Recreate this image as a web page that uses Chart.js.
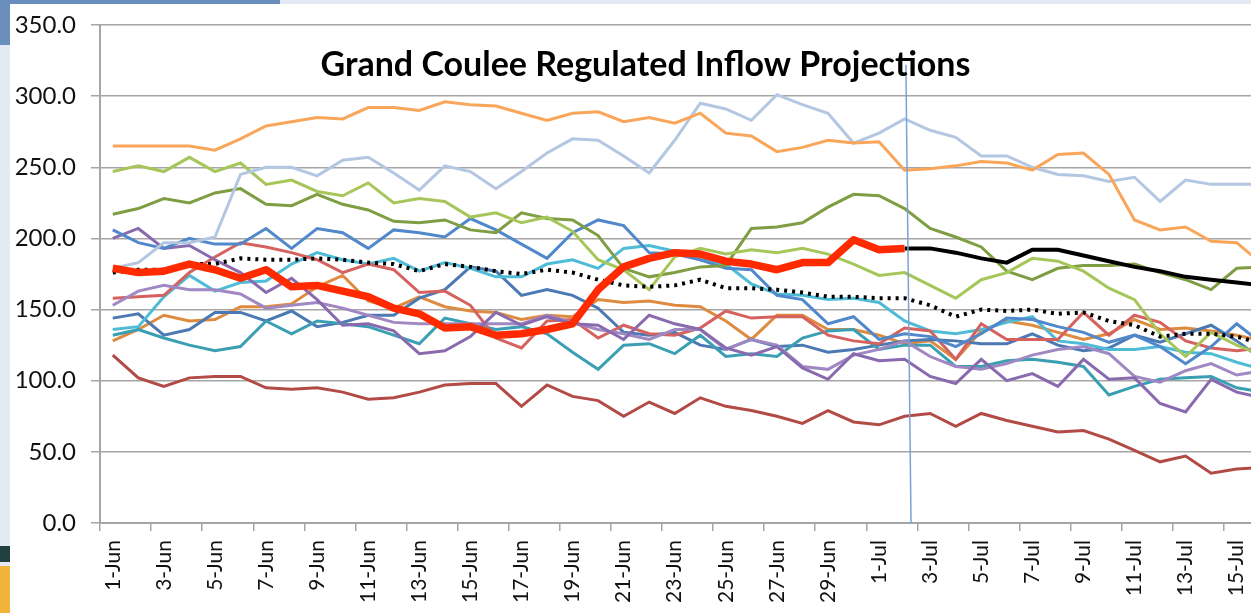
<!DOCTYPE html>
<html>
<head>
<meta charset="utf-8">
<script src="https://cdn.jsdelivr.net/npm/chart.js@4.4.1/dist/chart.umd.min.js"></script>
<style>
  html, body { margin: 0; padding: 0; overflow: hidden; }
  body { width: 1251px; height: 613px; position: relative; background: #e3eaf3; }
  .bar-top { position: absolute; left: 0; top: 0; width: 280px; height: 5px; background: #6a8fbd; }
  .bar-left { position: absolute; left: 0; top: 0; width: 10px; height: 45px; background: #6a8fbd; }
  .foot-dark { position: absolute; left: 0; top: 546px; width: 10px; height: 16px; background: #22403e; }
  .foot-gold { position: absolute; left: 0; top: 566px; width: 10px; height: 47px; background: #f1b43a; }
  #inflowChart { position: absolute; left: 10px; top: 4px; background: #fff; }
</style>
</head>
<body>
<div class="bar-top"></div>
<div class="bar-left"></div>
<div class="foot-dark"></div>
<div class="foot-gold"></div>
<canvas id="inflowChart" width="1265" height="609"></canvas>
<script>
const chartTitle = 'Grand Coulee Regulated Inflow Projections';

const days = ['1-Jun','2-Jun','3-Jun','4-Jun','5-Jun','6-Jun','7-Jun','8-Jun','9-Jun','10-Jun',
  '11-Jun','12-Jun','13-Jun','14-Jun','15-Jun','16-Jun','17-Jun','18-Jun','19-Jun','20-Jun',
  '21-Jun','22-Jun','23-Jun','24-Jun','25-Jun','26-Jun','27-Jun','28-Jun','29-Jun','30-Jun',
  '1-Jul','2-Jul','3-Jul','4-Jul','5-Jul','6-Jul','7-Jul','8-Jul','9-Jul','10-Jul',
  '11-Jul','12-Jul','13-Jul','14-Jul','15-Jul','16-Jul'];

const yTicks = [0, 50, 100, 150, 200, 250, 300, 350];
const cutoverIndex = 31; // 2-Jul, where observed flow hands over to the forecast

// scenario traces (kcfs)
const orangeHigh = [265,265,265,265,262,270,279,282,285, 284,292,292,290,296,294,293,288,283,288,
  289,282,285,281,288,274,272,261,264, 269,267,268,248,249,251,254,253,248, 259,260,245,213,206,208,198,197,182];
const paleBlue = [179,183,197,197,201,245,250,250,244, 255,257,246,234,251,247,235,247,260,270,
  269,258,246,269,295,291,283,301,294, 288,267,274,284,276,271,258,258,250, 245,244,240,243,226,241,238,238,238];
const limeGreen = [247,251,247,257,247,253,238,241,233, 230,239,225,228,226,215,218,211,215,205,
  185,178,164,187,193,189,192,190,193, 189,182,174,176,167,158,171,176,186, 184,177,165,157,133,117,134,125,118];
const oliveGreen = [217,221,228,225,232,235,224,223,231, 224,220,212,211,213,206,204,218,214,213,
  202,179,173,176,180,181,207,208,211, 222,231,230,221,207,201,194,177,171, 179,181,181,182,176,171,164,179,180];
const blueTop = [206,197,193,200,196,196,207,193,207, 204,193,206,204,201,214,206,196,186,204,
  213,209,190,189,185,179,178,160,157, 140,145,129,133,131,124,133,144,143, 138,134,127,132,124,112,124,140,126];
const purpleA = [200,207,193,195,185,176,162,172,157, 139,140,135,119,121,131,148,139,145,140,
  139,129,146,140,136,123,118,124,109, 101,119,114,115,103,98,115,100,105, 96,115,101,102,84,78,101,92,88];
const purpleB = [153,163,167,164,164,161,151,153,155, 151,146,141,140,140,140,140,140,146,141,
  136,133,129,136,136,122,129,125,110, 108,118,122,128,117,110,108,112,118, 122,124,119,103,99,107,112,104,107];
const salmon = [158,159,160,176,187,197,194,190,185, 176,182,178,162,163,153,130,123,142,143,
  130,139,133,132,137,149,144,145,145, 132,128,126,137,135,115,140,129,129, 129,148,132,146,141,128,123,121,123];
const aqua = [136,138,159,174,163,169,170,182,190, 185,182,186,177,183,179,173,173,182,185,
  179,193,195,191,185,182,168,161,160, 157,158,155,142,135,133,136,141,145, 128,126,122,122,124,120,119,113,108];
const teal = [132,136,130,125,121,124,142,133,142, 140,138,132,126,144,140,136,138,133,120,
  108,125,126,119,132,117,119,117,130, 135,136,122,125,125,110,110,114,115, 113,110,90,96,101,102,103,95,92];
const steelBlue = [144,147,132,136,148,148,142,149,138, 141,146,146,158,164,180,177,160,164,160,
  151,134,132,134,125,122,129,124,125, 120,122,125,128,129,128,126,126,133, 125,121,123,132,127,133,139,128,115];
const amber = [128,136,146,142,143,152,152,154,166, 174,156,151,159,152,149,148,143,146,145,
  157,155,156,153,152,142,129,146,146, 136,136,132,126,128,115,135,142,139, 134,129,133,143,136,137,135,132,128];
const brick = [118,102,96,102,103,103,95,94,95, 92,87,88,92,97,98,98,82,97,89,
  86,75,85,77,88,82,79,75,70, 79,71,69,75,77,68,77,72,68, 64,65,59,51,43,47,35,38,39];

// observed, forecast and scenario average
const observed = [179,176,177,182,178,172,178,166,167, 163,159,151,147,137,138,132,133,136,140,
  164,180,186,190,189,184,182,178,183, 183,199,192,193,
  null,null,null,null,null,null,null,null,null,null,null,null,null,null];
const forecast = [null,null,null,null,null,null,null,null,null,null,null,null,null,null,null,null,
  null,null,null,null,null,null,null,null,null,null,null,null,null,null,null,
  193,193,190,186,183,192, 192,188,184,180,177,173,171,169,167];
const average = [176,178,178,182,182,186,185,185,186, 185,183,182,177,182,180,177,175,178,176,
  171,167,166,167,171,165,165,164,162, 159,159,158,158,153,145,150,149,150, 147,148,142,139,131,133,133,131,126];

function trace(label, data, color, width, order, extra) {
    return Object.assign({
        label: label,
        data: data,
        borderColor: color,
        backgroundColor: color,
        borderWidth: width,
        pointRadius: 0,
        tension: 0,
        fill: false,
        order: order
    }, extra || {});
}

const datasets = [
    trace('Observed', observed, '#ff2a00', 7.5, 0, { borderJoinStyle: 'round' }),
    trace('Forecast', forecast, '#000000', 4, 1),
    trace('Average', average, '#000000', 4, 2, { borderDash: [3, 5] }),
    trace('S1', orangeHigh, '#f9a65a', 3, 3),
    trace('S2', paleBlue, '#b4c7e2', 3, 4),
    trace('S3', limeGreen, '#a6c659', 3, 5),
    trace('S4', oliveGreen, '#7f9d42', 3, 6),
    trace('S5', blueTop, '#5088cb', 3, 7),
    trace('S6', purpleA, '#8a6aae', 3, 8),
    trace('S7', purpleB, '#a088c2', 3, 9),
    trace('S8', salmon, '#d5625e', 3, 10),
    trace('S9', aqua, '#4ebcd6', 3, 11),
    trace('S10', teal, '#3a9fb3', 3, 12),
    trace('S11', steelBlue, '#4b79b3', 3, 13),
    trace('S12', amber, '#de8b40', 3, 14),
    trace('S13', brick, '#b24b46', 3, 15)
];

const overlay = {
    id: 'overlay',
    afterDatasetsDraw(chart) {
        const { ctx, chartArea, scales: { x, y } } = chart;
        ctx.save();
        // hand-over marker
        ctx.strokeStyle = '#7aa3d4';
        ctx.lineWidth = 1.5;
        ctx.beginPath();
        ctx.moveTo(x.getPixelForValue(cutoverIndex + 0.05), y.getPixelForValue(322));
        ctx.lineTo(x.getPixelForValue(cutoverIndex + 0.25), chartArea.bottom);
        ctx.stroke();
        // title sits inside the plot area
        ctx.fillStyle = '#000';
        ctx.font = 'bold 34px Lato';
        ctx.textAlign = 'center';
        ctx.textBaseline = 'alphabetic';
        ctx.fillText(chartTitle, chart.width / 2 + 3, chartArea.top + 51);
        ctx.restore();
    }
};

const axisGrey = '#a6a6a6';

new Chart(document.getElementById('inflowChart').getContext('2d'), {
    type: 'line',
    data: { labels: days, datasets: datasets },
    options: {
        responsive: false,
        devicePixelRatio: 1,
        animation: false,
        layout: { padding: { top: 21, left: 0, right: 0, bottom: 0 } },
        plugins: {
            legend: { display: false },
            tooltip: { enabled: false },
            title: { display: false }
        },
        scales: {
            x: {
                type: 'category',
                offset: true,
                afterFit(scale) { scale.height = 90; },
                grid: {
                    drawOnChartArea: false,
                    drawTicks: true,
                    tickLength: 8,
                    lineWidth: 1.5,
                    offset: true,
                    color: ctx => (ctx.index % 2 === 0 ? axisGrey : 'rgba(0,0,0,0)')
                },
                border: { display: true, color: axisGrey, width: 2 },
                ticks: {
                    autoSkip: false,
                    minRotation: 90,
                    maxRotation: 90,
                    padding: 9,
                    color: '#111',
                    // tiny lineHeight keeps Chart.js from reserving side padding for the rotated labels
                    font: { family: 'Lato', size: 21, lineHeight: 0.1 },
                    callback: (val, i) => (i % 2 === 0 ? days[i] : '')
                }
            },
            y: {
                min: yTicks[0],
                max: yTicks[yTicks.length - 1],
                afterFit(scale) { scale.width = 90; },
                afterBuildTicks(scale) { scale.ticks = yTicks.map(v => ({ value: v })); },
                grid: { color: axisGrey, lineWidth: 1.5, tickLength: 9 },
                border: { display: true, color: axisGrey, width: 2 },
                ticks: {
                    padding: 15,
                    color: '#111',
                    font: { family: 'Lato', size: 24, lineHeight: 0.1 },
                    callback: v => Number(v).toFixed(1)
                }
            }
        }
    },
    plugins: [overlay]
});
</script>
</body>
</html>
